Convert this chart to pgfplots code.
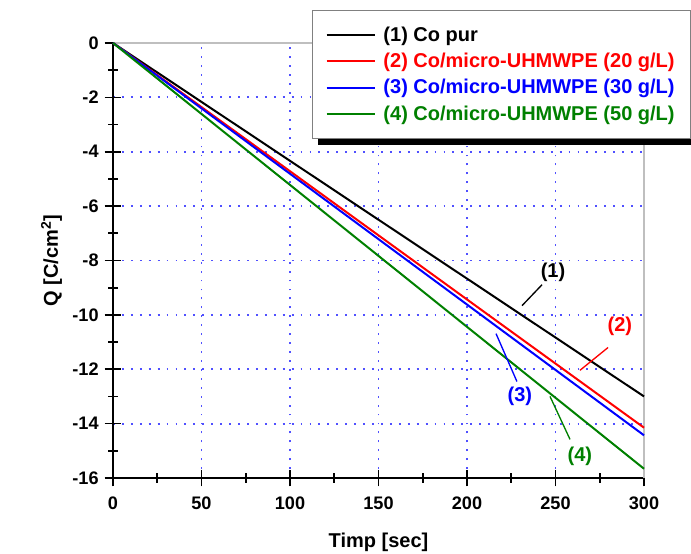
\documentclass[border=0pt]{standalone}
\usepackage{pgfplots}
\pgfplotsset{compat=1.18}
\usepackage{fontspec}
\setmainfont{Liberation Sans}
\definecolor{ogreen}{RGB}{0,128,0}
\definecolor{oblue}{RGB}{0,0,255}
\definecolor{ored}{RGB}{255,0,0}
\definecolor{gridblue}{RGB}{80,80,255}

\begin{document}
\begin{tikzpicture}
\begin{axis}[
  scale only axis,
  width=398.25pt, height=326.25pt,
  xmin=0, xmax=300, ymin=-16, ymax=0,
  xtick={0,50,...,300}, ytick={-16,-14,...,0},
  minor x tick num=1, minor y tick num=1,
  axis x line*=bottom, axis y line*=left,
  axis line style={-, line width=1.6pt},
  tick align=center,
  major tick length=12.5pt, minor tick length=7pt,
  tick style={black, line width=1.3pt},
  grid=major,
  major grid style={gridblue, line width=1.4pt, dash pattern=on 1.4pt off 5.3pt},
  ticklabel style={font=\fontsize{13.6}{15}\selectfont\bfseries},
  /pgf/number format/assume math mode=true,
  xticklabel style={yshift=-4pt},
  yticklabel style={xshift=-1pt},
  xlabel={\bfseries Timp [sec]},
  ylabel={\bfseries Q [C/cm\textsuperscript{2}]},
  label style={font=\fontsize{15}{17}\selectfont},
  xlabel style={yshift=-11pt},
  ylabel style={yshift=1pt},
  clip=false,
  legend style={at={(0.3748,1.0759)}, anchor=north west, draw=gray, fill=white,
    line width=0.8pt,
    font=\fontsize{15}{17}\selectfont\bfseries,
    inner xsep=10pt, inner ysep=10pt, row sep=3.5pt,
    /tikz/column 1/.style={column sep=4pt}},
  legend cell align=left,
  legend image code/.code={\draw[#1, line width=1.2pt] (0pt,0pt) -- (36pt,0pt);},
]
\draw[gray!50, line width=0.8pt] (rel axis cs:0,1) -- (rel axis cs:1,1) -- (rel axis cs:1,0);
% legend shadow (drawn before the legend, which covers most of it)
\fill[black] (rel axis cs:0.386,0.765) rectangle (rel axis cs:1.15,1.0);

\addplot[black, line width=1.5pt] coordinates {(0,0) (300,-13.00)};
\addlegendentry{(1) Co pur}
\addplot[ored, line width=1.5pt] coordinates {(0,0) (300,-14.15)};
\addlegendentry{\textcolor{ored}{(2) Co/micro-UHMWPE (20 g/L)}}
\addplot[oblue, line width=1.5pt] coordinates {(0,0) (300,-14.43)};
\addlegendentry{\textcolor{oblue}{(3) Co/micro-UHMWPE (30 g/L)}}
\addplot[ogreen, line width=1.5pt] coordinates {(0,0) (300,-15.66)};
\addlegendentry{\textcolor{ogreen}{(4) Co/micro-UHMWPE (50 g/L)}}

% annotations
\draw[black, line width=1pt] (axis cs:231.1,-9.66) -- (axis cs:242.4,-8.89);
\node[black, font=\fontsize{15}{17}\selectfont\bfseries] at (axis cs:248.6,-8.43) {(1)};
\draw[ored, line width=1pt] (axis cs:263.8,-12.04) -- (axis cs:279.7,-11.2);
\node[ored, font=\fontsize{15}{17}\selectfont\bfseries] at (axis cs:286.4,-10.43) {(2)};
\draw[oblue, line width=1pt] (axis cs:216.4,-10.69) -- (axis cs:228.2,-12.45);
\node[oblue, font=\fontsize{15}{17}\selectfont\bfseries] at (axis cs:229.9,-13.0) {(3)};
\draw[ogreen, line width=1pt] (axis cs:246.9,-13.0) -- (axis cs:258.2,-14.58);
\node[ogreen, font=\fontsize{15}{17}\selectfont\bfseries] at (axis cs:263.8,-15.21) {(4)};

\coordinate (sw) at (rel axis cs:0,0);
\end{axis}
\pgfresetboundingbox
\useasboundingbox (sw) ++(-84.75pt,-56.25pt) rectangle ++(518.25pt,414.75pt);
\end{tikzpicture}
\end{document}
